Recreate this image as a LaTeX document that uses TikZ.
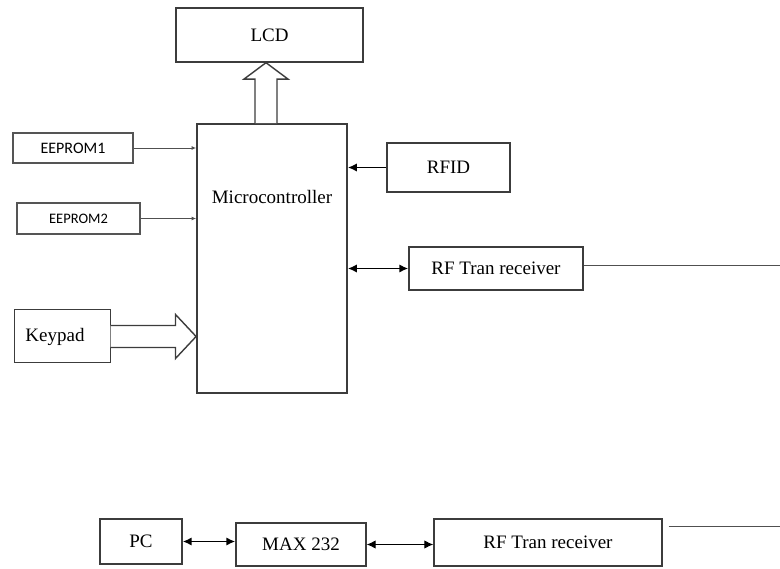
\documentclass[tikz,border=0pt]{standalone}
\usepackage{fontspec}
\setmainfont{Liberation Serif}
\newfontfamily\calib{Carlito}
\usetikzlibrary{positioning,calc,arrows.meta}
\definecolor{bxgrey}{HTML}{3C3C3C}
\definecolor{eegrey}{HTML}{555555}
\definecolor{lngrey}{HTML}{505050}
\tikzset{
  blk/.style   ={rectangle, draw=bxgrey, line width=1.4pt, fill=white,
                 align=center, font=\fontsize{19}{21}\selectfont, inner sep=2pt},
  eeblk/.style ={rectangle, draw=eegrey, line width=2.6pt, fill=white,
                 align=center, inner sep=2pt},
  thin/.style  ={draw=lngrey, line width=0.9pt},
  small/.style ={thin, -{Latex[length=4.5pt,width=4pt]}},
  one/.style   ={draw=black, line width=1.8pt, -{Latex[length=9pt,width=8.5pt]}},
  two/.style   ={draw=black, line width=1.8pt, {Latex[length=9pt,width=8.5pt]}-{Latex[length=9pt,width=8.5pt]}},
  twothin/.style ={draw=black, line width=1pt, {Latex[length=9pt,width=8.5pt]}-{Latex[length=9pt,width=8.5pt]}},
  hollow/.style={draw=bxgrey, line width=1.4pt, fill=white, line join=miter}
}

\begin{document}
\begin{tikzpicture}[x=1pt, y=-1pt]
  \useasboundingbox (0,0) rectangle (780,569);
  % controller side
  \node[blk, minimum width=150pt, minimum height=269pt, line width=1.8pt] (mcu) at (272,258.5) {};
  \node[font=\fontsize{19}{21}\selectfont, below=64pt of mcu.north] (mcutxt) {Microcontroller};
  \node[blk, minimum width=187pt, minimum height=54pt] (lcd) at (269.5,35) {LCD};
  \node[eeblk, minimum width=120pt, minimum height=30pt, font=\calib\fontsize{16}{18}\selectfont] (ee1) at (73,148) {EEPROM1};
  \node[eeblk, minimum width=123pt, minimum height=31pt, font=\calib\fontsize{14.5}{16}\selectfont] (ee2) at (78.5,218.5) {EEPROM2};
  \node[blk, minimum width=96pt, minimum height=53pt, line width=1pt] (kp) at (62,336.5) {Keypad\hspace{14pt}};
  \node[blk, minimum width=123pt, minimum height=49pt] (rfid) at (448.5,167.5) {RFID};
  \node[blk, minimum width=174pt, minimum height=43pt] (rf1) at (496,268.5) {RF Tran receiver};
  \coordinate (ant1) at (780,265);

  \draw[small] (ee1.east) -- (ee1.east -| mcu.west);
  \draw[small] (ee2.east) -- (ee2.east -| mcu.west);
  \draw[one] (rfid.west) -- (rfid.west -| mcu.east);
  \draw[two] (rf1.west -| mcu.east) -- (rf1.west);
  \draw[thin] (rf1.east |- ant1) -- (ant1);

  % wide arrows
  \draw[hollow] (kp.east) ++(0,-11) -- ++(65,0) -- ++(0,-11)
    -- (kp.east -| mcu.west) -- ($(kp.east)+(65,22)$) -- ++(0,-11) -- ++(-65,0);
  \coordinate (lcdarr) at ($(mcu.north)+(-6,0)$);
  \draw[hollow] ($(lcdarr)+(11,0)$) -- ++(0,-44) -- ++(11,0)
    -- (lcdarr |- lcd.south) -- ($(lcdarr)+(-22,-44)$) -- ++(11,0) -- ++(0,44);

  % PC side
  \node[blk, minimum width=82pt, minimum height=45pt] (pc) at (141,541.5) {PC};
  \node[blk, minimum width=130pt, minimum height=43pt] (mx) at (301,544.5) {MAX 232};
  \node[blk, minimum width=228pt, minimum height=47pt] (rf2) at (548,542.5) {RF Tran receiver};
  \coordinate (ant2) at (780,526);

  \draw[two] (pc.east) -- (pc.east -| mx.west);
  \draw[twothin] (mx.east) -- (mx.east -| rf2.west);
  \draw[thin] ($(rf2.east |- ant2)+(6,0)$) -- (ant2);
\end{tikzpicture}
\end{document}
